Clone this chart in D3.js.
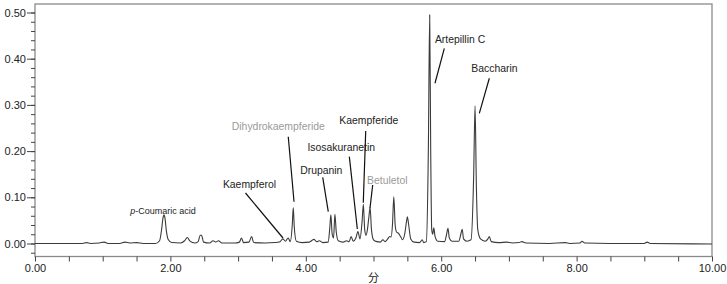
<!DOCTYPE html>
<html>
<head>
<meta charset="utf-8">
<script src="https://cdn.jsdelivr.net/npm/d3@7"></script>
<style>
  html, body { margin: 0; padding: 0; background: #fff; }
  svg { display: block; font-family: "Liberation Sans", Arial, Helvetica, sans-serif; }
</style>
</head>
<body>
<svg id="chart" width="727" height="284"></svg>
<script>
// Retention time (min) and absorbance
const times = [
  0.00, 0.70, 0.76, 0.82, 0.95, 1.02, 1.08, 1.25, 1.33, 1.40, 1.50, 1.60,
  1.78, 1.84, 1.87, 1.89, 1.905, 1.92, 1.94, 1.97, 2.02, 2.15, 2.21, 2.25,
  2.29, 2.36, 2.41, 2.44, 2.46, 2.49, 2.58, 2.63, 2.67, 2.71, 2.76, 2.95,
  3.02, 3.05, 3.08, 3.16, 3.20, 3.23, 3.40, 3.55, 3.62, 3.66, 3.70, 3.74,
  3.77, 3.80, 3.815, 3.83, 3.86, 3.95, 4.05, 4.12, 4.16, 4.20, 4.25, 4.33,
  4.355, 4.37, 4.39, 4.41, 4.43, 4.45, 4.48, 4.55, 4.60, 4.64, 4.67, 4.70,
  4.74, 4.77, 4.80, 4.83, 4.85, 4.87, 4.89, 4.91, 4.93, 4.95, 4.97, 5.00,
  5.05, 5.10, 5.14, 5.17, 5.21, 5.24, 5.26, 5.28, 5.30, 5.32, 5.34, 5.37,
  5.40, 5.43, 5.46, 5.49, 5.50, 5.52, 5.55, 5.60, 5.68, 5.72, 5.74, 5.78,
  5.81, 5.83, 5.845, 5.86, 5.875, 5.89, 5.91, 5.95, 6.05, 6.08, 6.10, 6.12,
  6.16, 6.26, 6.29, 6.31, 6.33, 6.38, 6.44, 6.48, 6.50, 6.52, 6.54, 6.58,
  6.65, 6.69, 6.71, 6.74, 6.85, 6.97, 7.05, 7.15, 7.19, 7.25, 7.60, 7.83,
  7.90, 8.05, 8.08, 8.12, 8.50, 9.00, 9.04, 9.09, 10.00
];
const absorbance = [
  0.000, 0.000, 0.002, 0.000, 0.001, 0.003, 0.000, 0.000, 0.003, 0.001, 0.002, 0.000,
  0.000, 0.006, 0.030, 0.055, 0.062, 0.055, 0.028, 0.008, 0.002, 0.001, 0.006, 0.013,
  0.005, 0.001, 0.004, 0.018, 0.018, 0.003, 0.001, 0.006, 0.003, 0.006, 0.001, 0.001,
  0.003, 0.012, 0.002, 0.003, 0.015, 0.002, 0.001, 0.002, 0.004, 0.010, 0.005, 0.012,
  0.004, 0.040, 0.078, 0.035, 0.005, 0.002, 0.003, 0.009, 0.004, 0.006, 0.002, 0.003,
  0.035, 0.062, 0.020, 0.012, 0.063, 0.025, 0.006, 0.003, 0.006, 0.004, 0.015, 0.005,
  0.012, 0.026, 0.010, 0.045, 0.085, 0.030, 0.018, 0.030, 0.055, 0.078, 0.030, 0.008,
  0.004, 0.003, 0.008, 0.004, 0.010, 0.015, 0.014, 0.040, 0.101, 0.040, 0.025, 0.022,
  0.015, 0.008, 0.020, 0.050, 0.058, 0.040, 0.010, 0.003, 0.002, 0.008, 0.002, 0.004,
  0.200, 0.495, 0.200, 0.030, 0.020, 0.034, 0.015, 0.005, 0.004, 0.020, 0.033, 0.012,
  0.005, 0.005, 0.020, 0.031, 0.010, 0.005, 0.008, 0.150, 0.298, 0.120, 0.030, 0.010,
  0.005, 0.010, 0.015, 0.004, 0.002, 0.003, 0.001, 0.002, 0.004, 0.001, 0.000, 0.002,
  0.000, 0.001, 0.005, 0.001, 0.000, 0.000, 0.003, 0.000, -0.001
];

const xMajorTicks = [0, 2, 4, 6, 8, 10];
const yMajorTicks = [0, 0.1, 0.2, 0.3, 0.4, 0.5];
const xAxisTitle = "分";

// Peak annotations: label, label anchor (time, absorbance), leader line (from -> to), muted flag
const peakNames   = ["p-Coumaric acid", "Kaempferol", "Dihydrokaempferide", "Drupanin", "Isosakuranetin", "Kaempferide", "Betuletol", "Artepillin C", "Baccharin"];
const labelTime   = [1.891, 3.168, 3.594, 4.229, 4.523, 4.931, 5.204, 6.278, 6.787];
const labelValue  = [0.0703, 0.1288, 0.2528, 0.1591, 0.2074, 0.2673, 0.1374, 0.4426, 0.3792];
const leaderFrom  = [null, [3.109, 0.1093], [3.741, 0.2312], [4.250, 0.1433], [4.643, 0.1879], [4.885, 0.2435], [4.988, 0.1266], [6.046, 0.4225], [6.711, 0.3576]];
const leaderTo    = [null, [3.663, 0.0119], [3.826, 0.0905], [4.332, 0.0688], [4.761, 0.0314], [4.849, 0.0883], [4.948, 0.0762], [5.908, 0.3468], [6.563, 0.2818]];
const labelMuted  = [false, false, true, false, false, false, true, false, false];

const svg = d3.select("#chart");
const plotLeft = 35, plotRight = 712, plotTop = 4, plotBottom = 256.5;

const x = d3.scaleLinear().domain([0, 10]).range([plotLeft, plotRight]);
const y = d3.scaleLinear().domain([0, 0.5]).range([243.5, 12.5]);

// Frame
svg.append("rect")
  .attr("x", plotLeft).attr("y", plotTop)
  .attr("width", plotRight - plotLeft).attr("height", plotBottom - plotTop)
  .attr("fill", "none").attr("stroke", "#8a8a8a").attr("stroke-width", 1.3);

// Y axis: minor ticks
const yMinor = d3.range(-0.02, 0.5001, 0.02).map(v => +v.toFixed(2));
const yMinorAxis = d3.axisLeft(y).tickValues(yMinor).tickSize(4).tickFormat("");
svg.append("g").attr("transform", `translate(${plotLeft},0)`).call(yMinorAxis)
  .call(g => g.select(".domain").remove())
  .call(g => g.selectAll("line").attr("stroke", "#444"));

const yAxis = d3.axisLeft(y).tickValues(yMajorTicks).tickSize(8).tickPadding(1).tickFormat(d3.format(".2f"));
svg.append("g").attr("transform", `translate(${plotLeft},0)`).call(yAxis)
  .call(g => g.select(".domain").remove())
  .call(g => g.selectAll("line").attr("stroke", "#444"))
  .call(g => g.selectAll("text").attr("font-size", 11).attr("fill", "#222")
    .attr("font-family", "'Liberation Sans', Arial, Helvetica, sans-serif"));

// X axis
const xTicks = d3.range(0, 10.001, 0.5).map(v => +v.toFixed(1));
const xAxis = d3.axisBottom(x).tickValues(xTicks).tickSize(5).tickPadding(3)
  .tickFormat(d => xMajorTicks.includes(d) ? d3.format(".2f")(d) : "");
svg.append("g").attr("transform", `translate(0,${plotBottom})`).call(xAxis)
  .call(g => g.select(".domain").remove())
  .call(g => g.selectAll("line").attr("stroke", "#444"))
  .call(g => g.selectAll("text").attr("font-size", 11).attr("fill", "#222")
    .attr("font-family", "'Liberation Sans', Arial, Helvetica, sans-serif"));

svg.append("text")
  .attr("x", (plotLeft + plotRight) / 2).attr("y", 282)
  .attr("text-anchor", "middle")
  .attr("font-size", 11).attr("fill", "#222")
  .attr("font-family", "'Noto Sans CJK JP', 'Noto Sans CJK SC', sans-serif")
  .text(xAxisTitle);

// Chromatogram trace
const pts = times.map((t, i) => [t, absorbance[i]]);
const line = d3.line().x(d => x(d[0])).y(d => y(d[1])).curve(d3.curveMonotoneX);
svg.append("path")
  .attr("d", line(pts))
  .attr("fill", "none").attr("stroke", "#3a3a3a").attr("stroke-width", 1.1)
  .attr("stroke-linejoin", "round");

// Annotations
peakNames.forEach((name, i) => {
  if (leaderFrom[i]) {
    svg.append("line")
      .attr("x1", x(leaderFrom[i][0])).attr("y1", y(leaderFrom[i][1]))
      .attr("x2", x(leaderTo[i][0])).attr("y2", y(leaderTo[i][1]))
      .attr("stroke", "#111").attr("stroke-width", 1.2);
  }
  const t = svg.append("text")
    .attr("x", x(labelTime[i])).attr("y", y(labelValue[i]))
    .attr("dy", "0.35em")
    .attr("text-anchor", "middle")
    .attr("font-size", i === 0 ? 9 : 10.4)
    .attr("fill", labelMuted[i] ? "#9a9a9a" : "#222");
  if (name.startsWith("p-")) {
    t.append("tspan").attr("font-style", "italic").text("p");
    t.append("tspan").text(name.slice(1));
  } else {
    t.text(name);
  }
});
</script>
</body>
</html>
